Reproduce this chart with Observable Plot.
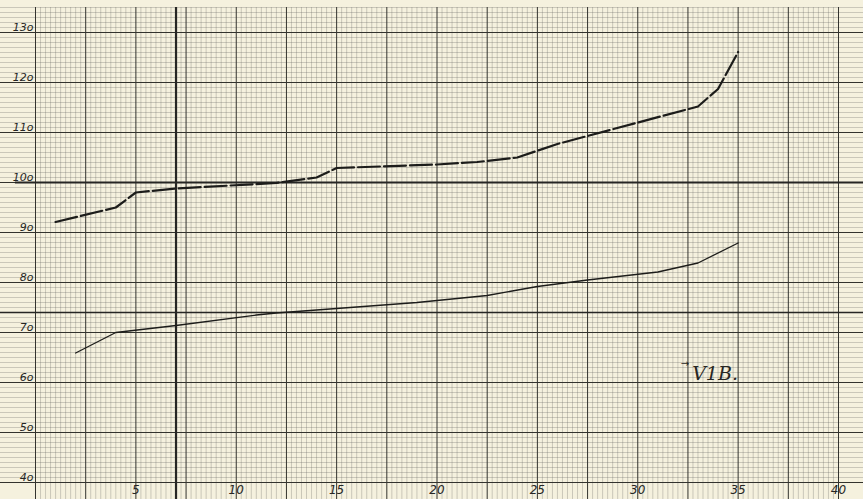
<!DOCTYPE html>
<html><head><meta charset="utf-8">
<script src="https://cdn.jsdelivr.net/npm/d3@7"></script>
<script src="https://cdn.jsdelivr.net/npm/@observablehq/plot@0.6"></script>
<style>html,body{margin:0;padding:0;background:#f5f1de;} #chart{width:863px;height:499px;overflow:hidden;}</style>
</head><body><div id="chart"></div>
<script>
// Upper (dashed) curve
const upperX = [1, 4, 5, 7, 12, 14, 15, 20, 22, 24, 26, 33, 34, 35];
const upperY = [92.1, 95, 98, 98.8, 99.9, 101, 102.9, 103.6, 104.1, 105, 107.7, 115.2, 118.7, 126.1];
// Lower (solid) curve
const lowerX = [2, 4, 7, 11, 12, 16, 19, 22.5, 25, 27.5, 31, 33, 35];
const lowerY = [65.9, 70, 71.4, 73.5, 73.9, 75.1, 76, 77.4, 79.2, 80.5, 82.1, 83.9, 87.9];
// Tick labels
const xTicks = [5, 10, 15, 20, 25, 30, 35, 40];
const yTicks = [40, 50, 60, 70, 80, 90, 100, 110, 120, 130];
const annotation = "V1B.";
const annotationArrow = "→";

const upper = upperX.map((x, i) => ({x, y: upperY[i]}));
const lower = lowerX.map((x, i) => ({x, y: lowerY[i]}));

const minorX = d3.range(0, 161).map(i => i * 0.25);
const minorY = d3.range(40, 136);
const ink = "#262624";

const chart = Plot.plot({
  width: 863, height: 499,
  marginLeft: 35, marginRight: 25, marginTop: 7, marginBottom: 17,
  style: {background: "#f5f1de", overflow: "visible", fontFamily: "DejaVu Sans"},
  x: {domain: [0, 40], label: null},
  y: {domain: [40, 135], label: null},
  marks: [
    Plot.ruleX(minorX.filter(x => x % 2.5 !== 0), {y1: 36.4, y2: 135, stroke: "#666660", strokeWidth: 0.5, strokeOpacity: 0.6}),
    Plot.ruleY(minorY.filter(y => y % 10 !== 0), {x1: -1.8, x2: 41.3, stroke: "#666660", strokeWidth: 0.5, strokeOpacity: 0.6}),
    Plot.ruleX(minorX.filter(x => x % 2.5 === 0), {y1: 36.4, y2: 135, stroke: "#33332e", strokeWidth: 1}),
    Plot.ruleY(minorY.filter(y => y % 10 === 0), {x1: -1.8, x2: 41.3, stroke: "#33332e", strokeWidth: 1}),
    Plot.ruleX([7], {y1: 36.4, y2: 135, stroke: ink, strokeWidth: 2.2}),
    Plot.ruleY([100], {x1: -1.0, x2: 41.3, stroke: ink, strokeWidth: 2}),
    Plot.ruleY([74], {x1: -1.8, x2: 41.3, stroke: ink, strokeWidth: 1.3}),
    Plot.line(upper, {x: "x", y: "y", stroke: "#1c1c1a", strokeWidth: 2.2, strokeDasharray: "22,4"}),
    Plot.line(lower, {x: "x", y: "y", stroke: "#1c1c1a", strokeWidth: 1.3}),
    Plot.text([annotation], {x: 33.85, y: 61.8, text: d => d, fontSize: 19, fontStyle: "italic", fontFamily: "DejaVu Serif", fill: ink}),
    Plot.text([annotationArrow], {x: 32.35, y: 63.8, text: d => d, fontSize: 10, fontFamily: "DejaVu Sans", fill: ink}),
    Plot.axisX(xTicks, {anchor: "bottom", tickSize: 0, tickPadding: 3, fontSize: 12, fontStyle: "italic", fill: ink, label: null}),
    Plot.axisY(yTicks, {anchor: "left", tickSize: 0, tickPadding: 2, dy: -5, fontSize: 11, fontStyle: "italic", fill: ink, label: null, tickFormat: d => (d / 10) + "o"})
  ]
});
document.getElementById("chart").appendChild(chart);
</script>
</body></html>
